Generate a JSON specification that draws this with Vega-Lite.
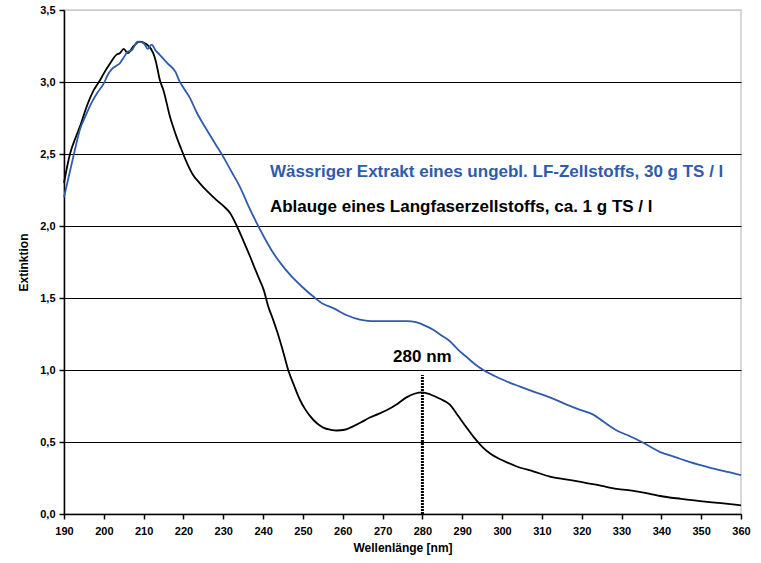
{
  "$schema": "https://vega.github.io/schema/vega-lite/v6.json",
  "width": 677,
  "height": 504,
  "autosize": "none",
  "padding": {"left": 64, "top": 10, "right": 20, "bottom": 49},
  "background": "white",
  "config": {
    "font": "Liberation Sans",
    "view": {"stroke": "#cccccc", "strokeWidth": 1.5},
    "axis": {
      "labelFont": "Liberation Sans",
      "labelFontWeight": "bold",
      "labelFontSize": 11,
      "labelColor": "black",
      "labelFlush": false,
      "titleFont": "Liberation Sans",
      "titleFontWeight": "bold",
      "titleFontSize": 12,
      "titleColor": "black",
      "domainColor": "black",
      "domainWidth": 1.5,
      "tickColor": "black",
      "tickWidth": 1.5,
      "tickSize": 5
    }
  },
  "datasets": {
    "curves": [
      {"s": "A", "nm": 190, "v": 2.3}, {"s": "A", "nm": 191.5, "v": 2.5}, {"s": "A", "nm": 193, "v": 2.62}, {"s": "A", "nm": 194, "v": 2.69},
      {"s": "A", "nm": 195.7, "v": 2.83}, {"s": "A", "nm": 197.4, "v": 2.94}, {"s": "A", "nm": 199, "v": 3.01}, {"s": "A", "nm": 200, "v": 3.06},
      {"s": "A", "nm": 201.6, "v": 3.13}, {"s": "A", "nm": 203.2, "v": 3.19}, {"s": "A", "nm": 204, "v": 3.2}, {"s": "A", "nm": 205, "v": 3.23},
      {"s": "A", "nm": 206, "v": 3.2}, {"s": "A", "nm": 207.5, "v": 3.25}, {"s": "A", "nm": 209, "v": 3.28}, {"s": "A", "nm": 210.8, "v": 3.26},
      {"s": "A", "nm": 212.4, "v": 3.2}, {"s": "A", "nm": 213, "v": 3.15}, {"s": "A", "nm": 214.1, "v": 3.01}, {"s": "A", "nm": 215, "v": 2.94},
      {"s": "A", "nm": 216.6, "v": 2.76}, {"s": "A", "nm": 218, "v": 2.64}, {"s": "A", "nm": 219.5, "v": 2.53}, {"s": "A", "nm": 221, "v": 2.43},
      {"s": "A", "nm": 222.5, "v": 2.35}, {"s": "A", "nm": 224, "v": 2.3}, {"s": "A", "nm": 226, "v": 2.24}, {"s": "A", "nm": 228.3, "v": 2.18},
      {"s": "A", "nm": 230, "v": 2.14}, {"s": "A", "nm": 231.7, "v": 2.09}, {"s": "A", "nm": 233.4, "v": 2.0}, {"s": "A", "nm": 235, "v": 1.9},
      {"s": "A", "nm": 236.7, "v": 1.79}, {"s": "A", "nm": 238, "v": 1.7}, {"s": "A", "nm": 239.2, "v": 1.62}, {"s": "A", "nm": 240.1, "v": 1.56},
      {"s": "A", "nm": 241.3, "v": 1.44}, {"s": "A", "nm": 242.5, "v": 1.35}, {"s": "A", "nm": 243.6, "v": 1.26}, {"s": "A", "nm": 245, "v": 1.13},
      {"s": "A", "nm": 246.3, "v": 1.0}, {"s": "A", "nm": 247.8, "v": 0.89}, {"s": "A", "nm": 249.3, "v": 0.79}, {"s": "A", "nm": 250.5, "v": 0.73},
      {"s": "A", "nm": 251.8, "v": 0.68}, {"s": "A", "nm": 253.5, "v": 0.63}, {"s": "A", "nm": 255.1, "v": 0.6}, {"s": "A", "nm": 257, "v": 0.585},
      {"s": "A", "nm": 258.5, "v": 0.58}, {"s": "A", "nm": 260.5, "v": 0.585}, {"s": "A", "nm": 262.7, "v": 0.61}, {"s": "A", "nm": 264.5, "v": 0.635},
      {"s": "A", "nm": 266.8, "v": 0.67}, {"s": "A", "nm": 269, "v": 0.695}, {"s": "A", "nm": 271, "v": 0.72}, {"s": "A", "nm": 273.5, "v": 0.76},
      {"s": "A", "nm": 276, "v": 0.81}, {"s": "A", "nm": 278, "v": 0.835}, {"s": "A", "nm": 280, "v": 0.845}, {"s": "A", "nm": 282, "v": 0.83},
      {"s": "A", "nm": 284.4, "v": 0.8}, {"s": "A", "nm": 286.9, "v": 0.76}, {"s": "A", "nm": 289, "v": 0.68}, {"s": "A", "nm": 291.1, "v": 0.6},
      {"s": "A", "nm": 293, "v": 0.53}, {"s": "A", "nm": 294.9, "v": 0.47}, {"s": "A", "nm": 297, "v": 0.42}, {"s": "A", "nm": 299.5, "v": 0.38},
      {"s": "A", "nm": 301.5, "v": 0.355}, {"s": "A", "nm": 303.7, "v": 0.33}, {"s": "A", "nm": 308, "v": 0.295}, {"s": "A", "nm": 312, "v": 0.26},
      {"s": "A", "nm": 316, "v": 0.24}, {"s": "A", "nm": 320.4, "v": 0.22}, {"s": "A", "nm": 325, "v": 0.195}, {"s": "A", "nm": 328.8, "v": 0.175},
      {"s": "A", "nm": 333, "v": 0.16}, {"s": "A", "nm": 337.2, "v": 0.14}, {"s": "A", "nm": 339.7, "v": 0.125}, {"s": "A", "nm": 345, "v": 0.105},
      {"s": "A", "nm": 349.7, "v": 0.09}, {"s": "A", "nm": 355, "v": 0.075}, {"s": "A", "nm": 360, "v": 0.06},
      {"s": "W", "nm": 190, "v": 2.2}, {"s": "W", "nm": 191, "v": 2.32}, {"s": "W", "nm": 192, "v": 2.44}, {"s": "W", "nm": 193, "v": 2.56},
      {"s": "W", "nm": 194, "v": 2.67}, {"s": "W", "nm": 195.5, "v": 2.77}, {"s": "W", "nm": 197, "v": 2.86}, {"s": "W", "nm": 198.5, "v": 2.93},
      {"s": "W", "nm": 200, "v": 2.99}, {"s": "W", "nm": 201, "v": 3.05}, {"s": "W", "nm": 202, "v": 3.09}, {"s": "W", "nm": 203, "v": 3.11},
      {"s": "W", "nm": 204, "v": 3.13}, {"s": "W", "nm": 205, "v": 3.17}, {"s": "W", "nm": 206, "v": 3.21}, {"s": "W", "nm": 207, "v": 3.22},
      {"s": "W", "nm": 208.5, "v": 3.28}, {"s": "W", "nm": 210, "v": 3.27}, {"s": "W", "nm": 211, "v": 3.23}, {"s": "W", "nm": 212, "v": 3.26},
      {"s": "W", "nm": 213, "v": 3.22}, {"s": "W", "nm": 214, "v": 3.19}, {"s": "W", "nm": 216, "v": 3.13}, {"s": "W", "nm": 218, "v": 3.07},
      {"s": "W", "nm": 219.1, "v": 3.0}, {"s": "W", "nm": 220, "v": 2.96}, {"s": "W", "nm": 221.6, "v": 2.89}, {"s": "W", "nm": 223.3, "v": 2.79},
      {"s": "W", "nm": 225.8, "v": 2.67}, {"s": "W", "nm": 228, "v": 2.57}, {"s": "W", "nm": 230, "v": 2.48}, {"s": "W", "nm": 232, "v": 2.38},
      {"s": "W", "nm": 234.2, "v": 2.27}, {"s": "W", "nm": 236.3, "v": 2.14}, {"s": "W", "nm": 238.4, "v": 2.02}, {"s": "W", "nm": 240.5, "v": 1.91},
      {"s": "W", "nm": 242.6, "v": 1.81}, {"s": "W", "nm": 244.7, "v": 1.73}, {"s": "W", "nm": 246.8, "v": 1.66}, {"s": "W", "nm": 249.7, "v": 1.58},
      {"s": "W", "nm": 252.6, "v": 1.51}, {"s": "W", "nm": 255, "v": 1.46}, {"s": "W", "nm": 257.6, "v": 1.43}, {"s": "W", "nm": 261, "v": 1.38},
      {"s": "W", "nm": 264.3, "v": 1.35}, {"s": "W", "nm": 267, "v": 1.34}, {"s": "W", "nm": 271, "v": 1.34}, {"s": "W", "nm": 274.4, "v": 1.34},
      {"s": "W", "nm": 276, "v": 1.34}, {"s": "W", "nm": 278.6, "v": 1.33}, {"s": "W", "nm": 280.5, "v": 1.31}, {"s": "W", "nm": 282.7, "v": 1.28},
      {"s": "W", "nm": 284.8, "v": 1.24}, {"s": "W", "nm": 286.9, "v": 1.2}, {"s": "W", "nm": 289, "v": 1.14}, {"s": "W", "nm": 291.1, "v": 1.09},
      {"s": "W", "nm": 293.2, "v": 1.04}, {"s": "W", "nm": 295.3, "v": 1.0}, {"s": "W", "nm": 298, "v": 0.96}, {"s": "W", "nm": 301.2, "v": 0.92},
      {"s": "W", "nm": 304.5, "v": 0.885}, {"s": "W", "nm": 307.9, "v": 0.85}, {"s": "W", "nm": 312, "v": 0.81}, {"s": "W", "nm": 316.2, "v": 0.76},
      {"s": "W", "nm": 320, "v": 0.72}, {"s": "W", "nm": 322.9, "v": 0.69}, {"s": "W", "nm": 325.5, "v": 0.64}, {"s": "W", "nm": 328.8, "v": 0.58},
      {"s": "W", "nm": 331.3, "v": 0.55}, {"s": "W", "nm": 335.1, "v": 0.5}, {"s": "W", "nm": 339.7, "v": 0.43}, {"s": "W", "nm": 343.5, "v": 0.395},
      {"s": "W", "nm": 347.2, "v": 0.36}, {"s": "W", "nm": 350.5, "v": 0.335}, {"s": "W", "nm": 353.9, "v": 0.31}, {"s": "W", "nm": 357, "v": 0.29},
      {"s": "W", "nm": 360, "v": 0.27}
    ],
    "labels": [
      {"s": "W", "nm": 241.7, "v": 2.375, "t": "Wässriger Extrakt eines ungebl. LF-Zellstoffs, 30 g TS / l"},
      {"s": "A", "nm": 241.7, "v": 2.13, "t": "Ablauge eines Langfaserzellstoffs, ca. 1 g TS / l"}
    ],
    "marker": [{"nm": 280, "v0": 0, "v1": 0.965, "vt": 1.09, "t": "280 nm"}]
  },
  "layer": [
    {
      "data": {"name": "curves"},
      "mark": {"type": "line", "strokeWidth": 1.8, "interpolate": "monotone"},
      "encoding": {
        "x": {
          "field": "nm", "type": "quantitative",
          "scale": {"domain": [190, 360], "nice": false, "zero": false},
          "axis": {"values": [190,200,210,220,230,240,250,260,270,280,290,300,310,320,330,340,350,360], "tickCount": 40, "labelOverlap": false, "labelBound": false, "labelFlush": false, "grid": false, "title": "Wellenlänge [nm]", "labelPadding": 6, "titlePadding": 6}
        },
        "y": {
          "field": "v", "type": "quantitative",
          "scale": {"domain": [0, 3.5], "nice": false},
          "axis": {
            "values": [0, 0.5, 1, 1.5, 2, 2.5, 3, 3.5],
            "tickCount": 20,
            "labelOverlap": false,
            "labelExpr": "replace(format(datum.value, '.1f'), '.', ',')",
            "grid": true,
            "gridColor": {"condition": {"test": "datum.value === 3.5", "value": "#cccccc"}, "value": "black"},
            "gridWidth": 1.2,
            "title": "Extinktion",
            "labelPadding": 4,
            "titlePadding": 9
          }
        },
        "color": {"field": "s", "type": "nominal", "scale": {"domain": ["A", "W"], "range": ["#000000", "#2f5bab"]}, "legend": null},
        "detail": {"field": "s"}
      }
    },
    {
      "data": {"name": "labels"},
      "mark": {"type": "text", "align": "left", "baseline": "middle", "fontSize": 17, "fontWeight": "bold", "font": "Liberation Sans"},
      "encoding": {
        "x": {"field": "nm", "type": "quantitative"},
        "y": {"field": "v", "type": "quantitative"},
        "text": {"field": "t"},
        "color": {"field": "s", "type": "nominal", "scale": {"domain": ["A", "W"], "range": ["#000000", "#2f5bab"]}, "legend": null}
      }
    },
    {
      "data": {"name": "marker"},
      "mark": {"type": "rule", "color": "black", "strokeWidth": 3, "strokeDash": [2, 1]},
      "encoding": {
        "x": {"field": "nm", "type": "quantitative"},
        "y": {"field": "v0", "type": "quantitative"},
        "y2": {"field": "v1"}
      }
    },
    {
      "data": {"name": "marker"},
      "mark": {"type": "text", "align": "center", "baseline": "middle", "fontSize": 17, "fontWeight": "bold", "font": "Liberation Sans", "color": "black"},
      "encoding": {
        "x": {"field": "nm", "type": "quantitative"},
        "y": {"field": "vt", "type": "quantitative"},
        "text": {"field": "t"}
      }
    }
  ]
}
